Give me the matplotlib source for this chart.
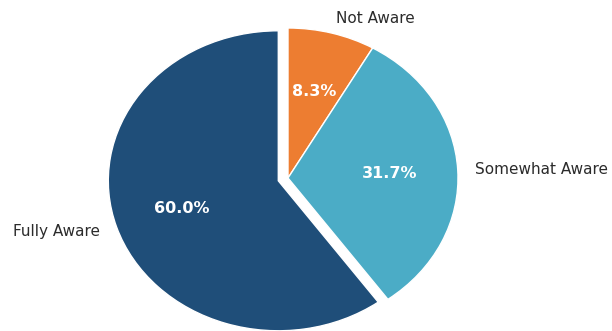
import matplotlib.pyplot as plt

plt.rcParams["font.family"] = ["DejaVu Sans"]

labels = ["Not Aware", "Somewhat Aware", "Fully Aware"]
shares = [8.3, 31.7, 60.0]
colors = ["#ED7D31", "#4BACC6", "#1F4E79"]
explode = [0, 0, 0.06]

fig = plt.figure(figsize=(6.12, 3.31), dpi=100)
# axes sized in pixels so the pie centre sits at (288, 178) from the top-left
ax = fig.add_axes([75.5 / 612, -34.5 / 331, 425 / 612, 375 / 331])

wedges, texts, autotexts = ax.pie(
    shares,
    labels=labels,
    colors=colors,
    explode=explode,
    startangle=90,
    counterclock=False,
    autopct="%1.1f%%",
    pctdistance=0.6,
    labeldistance=1.1,
    wedgeprops={"edgecolor": "white", "linewidth": 1},
    textprops={"fontsize": 11, "color": "#2b2b2b"},
)

for t in autotexts:
    t.set_color("white")
    t.set_fontweight("bold")
    t.set_fontsize(11.5)

ax.set_aspect("auto")
ax.set_xlim(-1.25, 1.25)
ax.set_ylim(-1.25, 1.25)

fig.savefig("out.png", dpi=100)
